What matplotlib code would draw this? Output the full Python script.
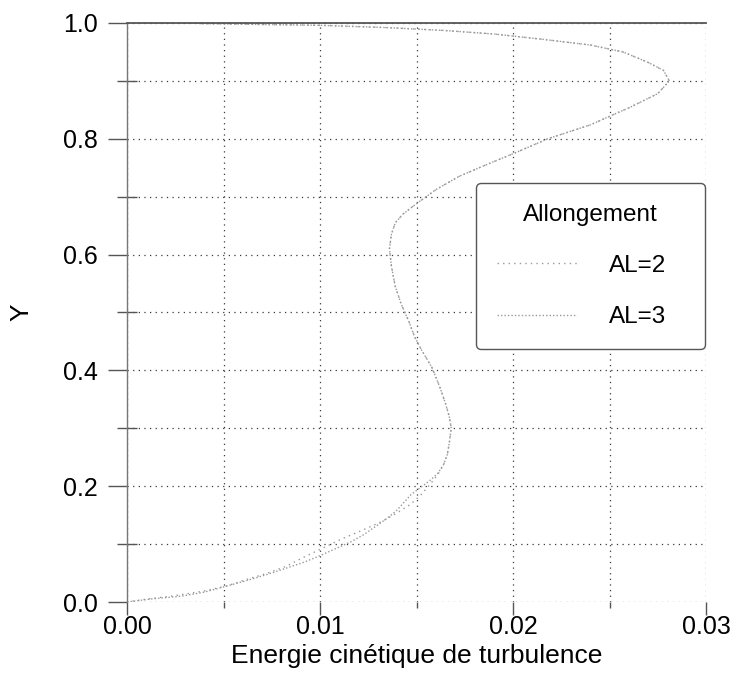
import matplotlib
matplotlib.use("Agg")
import matplotlib.pyplot as plt
from matplotlib.ticker import MultipleLocator, FormatStrFormatter

plt.rcParams['font.family'] = ['Liberation Sans', 'DejaVu Sans']

# Turbulent kinetic energy profiles along the vertical centre line
k_al2 = [0.0000, 0.0010, 0.0025, 0.0040, 0.0052, 0.0062, 0.0072, 0.0082, 0.0092,
         0.0102, 0.0112, 0.0122, 0.0132, 0.0140, 0.0147, 0.0152, 0.0157, 0.0161,
         0.0164, 0.0166, 0.0167, 0.0168, 0.0167, 0.0165, 0.0162, 0.0158, 0.0153,
         0.0149, 0.0146, 0.0142, 0.0139, 0.0137, 0.0136, 0.0137, 0.0139, 0.0143,
         0.0150, 0.0160, 0.0172, 0.0186, 0.0202, 0.0218, 0.0240, 0.0261, 0.0275,
         0.0281, 0.0278, 0.0270, 0.0257, 0.0240, 0.0215, 0.0190, 0.0165, 0.0135,
         0.0100, 0.0037]
y_al2 = [0.000, 0.005, 0.011, 0.019, 0.028, 0.039, 0.049, 0.061, 0.078,
         0.094, 0.110, 0.124, 0.139, 0.154, 0.169, 0.184, 0.203, 0.220,
         0.237, 0.255, 0.275, 0.300, 0.320, 0.343, 0.372, 0.405, 0.433,
         0.458, 0.485, 0.515, 0.545, 0.580, 0.610, 0.635, 0.655, 0.670,
         0.688, 0.712, 0.735, 0.755, 0.777, 0.800, 0.824, 0.855, 0.878,
         0.900, 0.918, 0.932, 0.950, 0.962, 0.972, 0.981, 0.987, 0.992,
         0.996, 0.999]

k_al3 = [0.0000, 0.0012, 0.0028, 0.0040, 0.0050, 0.0062, 0.0073, 0.0083, 0.0092,
         0.0100, 0.0108, 0.0116, 0.0123, 0.0135, 0.0140, 0.0147, 0.0153, 0.0157,
         0.0161, 0.0164, 0.0166, 0.0167, 0.0168, 0.0167, 0.0165, 0.0162, 0.0158,
         0.0153, 0.0149, 0.0146, 0.0142, 0.0139, 0.0137, 0.0136, 0.0137, 0.0139,
         0.0143, 0.0150, 0.0160, 0.0172, 0.0186, 0.0202, 0.0218, 0.0240, 0.0261,
         0.0275, 0.0281, 0.0278, 0.0270, 0.0257, 0.0240, 0.0215, 0.0190, 0.0165,
         0.0135, 0.0100, 0.0037]
y_al3 = [0.000, 0.005, 0.010, 0.017, 0.026, 0.037, 0.048, 0.059, 0.069,
         0.080, 0.092, 0.104, 0.117, 0.145, 0.159, 0.185, 0.200, 0.210,
         0.222, 0.237, 0.255, 0.275, 0.300, 0.320, 0.343, 0.372, 0.405,
         0.433, 0.458, 0.485, 0.515, 0.545, 0.580, 0.610, 0.635, 0.655,
         0.670, 0.688, 0.712, 0.735, 0.755, 0.777, 0.800, 0.824, 0.855,
         0.878, 0.900, 0.918, 0.932, 0.950, 0.962, 0.972, 0.981, 0.987,
         0.992, 0.996, 0.999]

series_labels = ["AL=2", "AL=3"]
legend_title = "Allongement"
x_label = "Energie cinétique de turbulence"
y_label = "Y"

fig = plt.figure(figsize=(7.33, 6.92), dpi=100)
ax = fig.add_axes([127 / 733, 1 - 602 / 692, 579 / 733, 579 / 692])

curve_color = "#999999"
ax.plot(k_al2, y_al2, color=curve_color, lw=1.0, ls=(0, (1, 3)), label=series_labels[0])
ax.plot(k_al3, y_al3, color=curve_color, lw=1.0, ls=(0, (1, 1.5)), label=series_labels[1])

ax.set_xlim(0, 0.03)
ax.set_ylim(0, 1.0)

ax.xaxis.set_major_locator(MultipleLocator(0.01))
ax.xaxis.set_minor_locator(MultipleLocator(0.005))
ax.yaxis.set_major_locator(MultipleLocator(0.2))
ax.yaxis.set_minor_locator(MultipleLocator(0.1))
ax.xaxis.set_major_formatter(FormatStrFormatter("%.2f"))
ax.yaxis.set_major_formatter(FormatStrFormatter("%.1f"))

ax.grid(True, which="both", color="#3a3a3a", lw=0.9, ls=(0, (1, 3.5)))
ax.set_axisbelow(True)

for side in ("right", "bottom"):
    ax.spines[side].set_visible(False)
ax.spines["left"].set_color("#777777")
ax.spines["left"].set_linewidth(1.0)
ax.spines["top"].set_color("#555555")
ax.spines["top"].set_linewidth(1.3)

ax.tick_params(axis="y", which="major", direction="out", length=14, width=1,
               color="#555555", labelsize=18, pad=7)
ax.tick_params(axis="y", which="minor", direction="inout", length=15, width=1,
               color="#555555")
ax.tick_params(axis="x", which="major", direction="out", length=9, width=1,
               color="#555555", labelsize=18, pad=0)
ax.tick_params(axis="x", which="minor", direction="out", length=4, width=1,
               color="#555555")

ax.set_xlabel(x_label, fontsize=19, labelpad=4)
ax.set_ylabel(y_label, fontsize=19, labelpad=21)

leg_top = 1 - (183 - 23) / 579
leg_h = 0.3
leg = ax.legend(title=legend_title, loc="upper left",
                bbox_to_anchor=(349 / 579, leg_top - leg_h, 229 / 579, leg_h),
                mode="expand", borderaxespad=0, fontsize=17.5, title_fontsize=17.5,
                handlelength=3.3, handletextpad=1.3, labelspacing=1.2,
                borderpad=0.85, fancybox=True, framealpha=1,
                edgecolor="#555555")
leg.get_frame().set_linewidth(1.0)

fig.savefig("out.png", dpi=100)
